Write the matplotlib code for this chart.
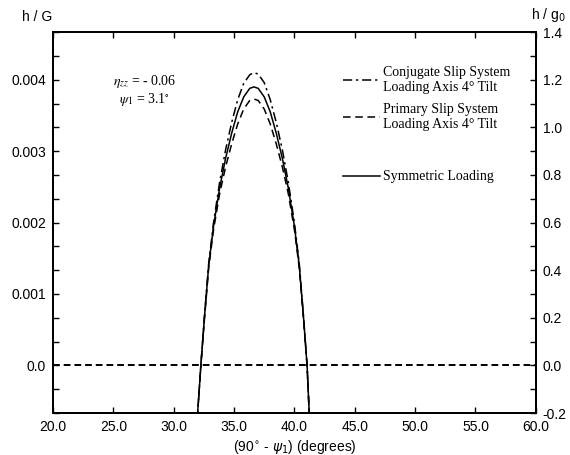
import matplotlib
matplotlib.use("Agg")
import matplotlib.pyplot as plt
from matplotlib.ticker import MultipleLocator, FuncFormatter

# angle (90 - psi1), degrees
angulo = [31.95, 32.25, 32.55, 32.9, 33.3, 33.8, 34.3, 34.8, 35.3, 35.8, 36.3, 36.65,
          37.0, 37.5, 38.0, 38.5, 39.0, 39.5, 40.0, 40.4, 40.75, 41.05, 41.25]

# h / G for the three loading cases
h_conjugado = [-0.00075, 0.0, 0.00070, 0.00143, 0.00200, 0.00256, 0.00302, 0.00340,
               0.00372, 0.00395, 0.00407, 0.00410, 0.00408, 0.00396, 0.00372, 0.00340,
               0.00302, 0.00256, 0.00200, 0.00143, 0.00070, 0.0, -0.00075]
h_simetrico = [-0.00075, 0.0, 0.00068, 0.00140, 0.00195, 0.00248, 0.00290, 0.00325,
               0.00355, 0.00376, 0.00388, 0.00390, 0.00388, 0.00376, 0.00355, 0.00325,
               0.00290, 0.00248, 0.00195, 0.00140, 0.00068, 0.0, -0.00075]
h_primario = [-0.00075, 0.0, 0.00066, 0.00137, 0.00190, 0.00240, 0.00278, 0.00310,
              0.00338, 0.00359, 0.00371, 0.00373, 0.00371, 0.00359, 0.00338, 0.00310,
              0.00278, 0.00240, 0.00190, 0.00137, 0.00066, 0.0, -0.00075]

x_ticks = [20, 25, 30, 35, 40, 45, 50, 55, 60]
y_ticks_esq = [0.0, 0.001, 0.002, 0.003, 0.004]
y_ticks_dir = [-0.2, 0.0, 0.2, 0.4, 0.6, 0.8, 1.0, 1.2, 1.4]

legenda = [
    ("Conjugate Slip System\nLoading Axis 4\u00b0 Tilt", (0, (6, 2.5, 1.5, 2.5))),
    ("Primary Slip System\nLoading Axis 4\u00b0 Tilt", (0, (5, 3))),
    ("Symmetric Loading", "-"),
]

plt.rcParams["font.family"] = ["Liberation Sans", "DejaVu Sans"]
plt.rcParams["font.size"] = 10

fig = plt.figure(figsize=(5.7, 4.55), dpi=100)
ax = fig.add_axes([0.093, 0.0923, 0.847, 0.837])

ax.plot(angulo, h_conjugado, color="black", lw=1.1, ls=legenda[0][1])
ax.plot(angulo, h_primario, color="black", lw=1.1, ls=legenda[1][1])
ax.plot(angulo, h_simetrico, color="black", lw=1.1, ls=legenda[2][1])
ax.axhline(0.0, color="black", lw=1.4, ls=(0, (3.5, 2)))

ax.set_xlim(20, 60)
ax.set_ylim(-0.2 / 300, 1.4 / 300)
ax.set_xticks(x_ticks)
ax.xaxis.set_major_formatter(FuncFormatter(lambda v, p: f"{v:.1f}"))
ax.set_yticks(y_ticks_esq)
ax.yaxis.set_minor_locator(MultipleLocator(0.001 / 3))
ax.yaxis.set_major_formatter(FuncFormatter(lambda v, p: "0.0" if abs(v) < 1e-9 else f"{v:.3f}"))
ax.tick_params(which="both", direction="in", length=4, width=1, top=True, pad=5)

ax2 = ax.twinx()
ax2.set_ylim(-0.2, 1.4)
ax2.set_yticks(y_ticks_dir)
ax2.yaxis.set_minor_locator(MultipleLocator(0.1))
ax2.yaxis.set_major_formatter(FuncFormatter(lambda v, p: f"{v:.1f}"))
ax2.tick_params(which="both", direction="in", length=4, width=1, pad=5)

for a in (ax, ax2):
    for s in a.spines.values():
        s.set_linewidth(1.4)

ax.set_xlabel("(90$^{\\circ}$ - $\\psi_1$) (degrees)", labelpad=3)
fig.text(22 / 570, 1 - 17 / 455, "h / G", va="center", ha="left")
fig.text(566 / 570, 1 - 15 / 455, "h / g$_0$", va="center", ha="right")

# annotation
ax.text(0.19, 0.869, "$\\eta_{zz}$ = - 0.06", transform=ax.transAxes, ha="center",
        va="center", family="Liberation Serif", math_fontfamily="stix", fontsize=10)
ax.text(0.19, 0.822, "$\\psi_1$ = 3.1$^{\\circ}$", transform=ax.transAxes, ha="center",
        va="center", family="Liberation Serif", math_fontfamily="stix", fontsize=10)

# legend drawn by hand
posicoes_y = [0.874, 0.777, 0.622]
for (rotulo, estilo), yy in zip(legenda, posicoes_y):
    ax.plot([0.600, 0.677], [yy, yy], transform=ax.transAxes, color="black",
            lw=1.1, ls=estilo)
    ax.text(0.683, yy, rotulo, transform=ax.transAxes, ha="left", va="center",
            family="Liberation Serif", fontsize=10, linespacing=1.15)

fig.savefig("out.png", dpi=100)
